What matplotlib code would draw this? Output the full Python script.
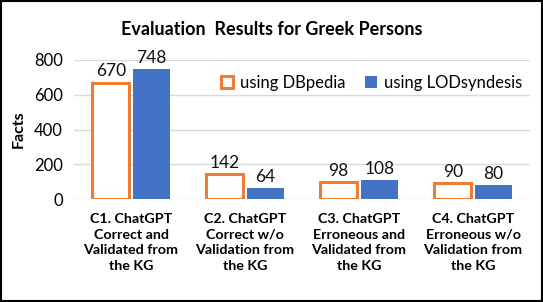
import matplotlib
matplotlib.use("Agg")
import matplotlib.pyplot as plt
import numpy as np

categories = ["C1. ChatGPT\nCorrect and\nValidated from\nthe KG",
              "C2. ChatGPT\nCorrect w/o\nValidation from\nthe KG",
              "C3. ChatGPT\nErroneous and\nValidated from\nthe KG",
              "C4. ChatGPT\nErroneous w/o\nValidation from\nthe KG"]
dbpedia = [670, 142, 98, 90]
lodsyndesis = [748, 64, 108, 80]
series_names = ["using DBpedia", "using LODsyndesis"]
yticks = [0, 200, 400, 600, 800]

plt.rcParams['font.family'] = ['Lato', 'DejaVu Sans']

fig = plt.figure(figsize=(5.43, 3.02), dpi=100)
ax = fig.add_axes([74/543, 1-199/302, 456/543, 139/302])

x = np.arange(len(categories))
w = 0.32
orange = "#ED7D31"
blue = "#4472C4"
b1 = ax.bar(x - w/2 - 0.018, dbpedia, w, facecolor="white", edgecolor=orange, linewidth=2.2, label=series_names[0])
b2 = ax.bar(x + w/2 + 0.018, lodsyndesis, w, color=blue, label=series_names[1])

for rect, v in zip(b1, dbpedia):
    ax.text(rect.get_x() + rect.get_width()/2, v + 18, str(v), ha="center", va="bottom", fontsize=12.5, color="#111")
for rect, v in zip(b2, lodsyndesis):
    ax.text(rect.get_x() + rect.get_width()/2, v + 18, str(v), ha="center", va="bottom", fontsize=12.5, color="#111")

ax.set_xlim(-0.5, 3.5)
ax.set_ylim(0, 800)
ax.set_yticks(yticks)
ax.set_yticklabels([str(t) for t in yticks], fontsize=12)
ax.set_xticks(x)
ax.set_xticklabels(categories, fontsize=10.3, fontweight="bold", linespacing=1.38)
ax.tick_params(axis="both", length=0, pad=8)
ax.tick_params(axis="x", pad=10)
ax.yaxis.grid(True, color="#D9D9D9", linewidth=1)
ax.set_axisbelow(True)
for s in ax.spines.values():
    s.set_visible(False)
ax.set_ylabel("Facts", fontsize=11.5, fontweight="bold", labelpad=6)

leg = ax.legend(loc="upper right", bbox_to_anchor=(1.015, 1.0), ncol=2, frameon=False,
                fontsize=12, handlelength=0.7, handleheight=0.7, columnspacing=1.2, handletextpad=0.4)

fig.suptitle("Evaluation  Results for Greek Persons", fontsize=13, fontweight="bold", y=0.93)

fig.patches.append(plt.Rectangle((0.002, 0.003), 0.996, 0.994, transform=fig.transFigure,
                                 fill=False, edgecolor="black", linewidth=1.5))

fig.savefig("out.png", dpi=100)
